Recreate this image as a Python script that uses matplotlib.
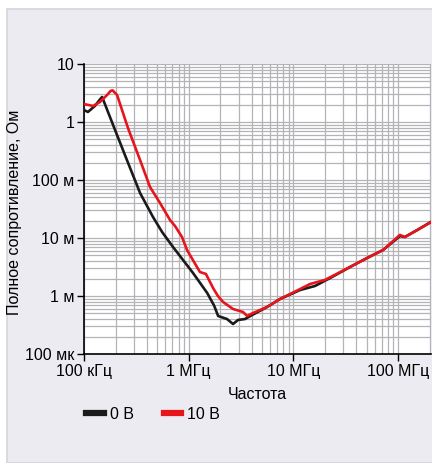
import matplotlib
matplotlib.use("Agg")
import matplotlib.pyplot as plt
from matplotlib.patches import Rectangle
from matplotlib.lines import Line2D

plt.rcParams['font.family'] = ['Liberation Sans', 'DejaVu Sans']

# === Data ===
freq_0v = [1.0e5, 1.09e5, 1.27e5, 1.42e5, 1.49e5, 1.98e5, 2.57e5, 3.43e5, 4.56e5, 5.6e5,
           7.08e5, 1.10e6, 1.50e6, 1.75e6, 1.91e6, 2.32e6, 2.65e6, 2.96e6, 3.45e6, 4.03e6,
           5.60e6, 7.45e6, 1.16e7, 1.61e7, 2.24e7, 3.47e7, 5.05e7, 7.18e7, 1.04e8, 1.16e8,
           1.52e8, 2.06e8]
z_0v = [1.61, 1.49, 1.89, 2.45, 2.70, 0.728, 0.221, 0.0597, 0.0230, 0.0125,
        0.0070, 0.00249, 0.00113, 0.00068, 0.000452, 0.000401, 0.000329, 0.000386, 0.000401, 0.00047,
        0.000646, 0.000887, 0.00127, 0.00149, 0.00204, 0.00316, 0.00452, 0.00621, 0.0108, 0.0104,
        0.0137, 0.0189]

freq_10v = [1.0e5, 1.22e5, 1.42e5, 1.66e5, 1.80e5, 1.88e5, 2.07e5, 2.63e5, 3.43e5, 4.27e5,
            5.32e5, 6.63e5, 7.40e5, 8.63e5, 9.64e5, 1.28e6, 1.46e6, 1.71e6, 1.9e6, 2.13e6,
            2.65e6, 3.30e6, 3.61e6, 4.11e6, 5.60e6, 7.45e6, 1.16e7, 1.44e7, 2.00e7,
            3.47e7, 5.05e7, 7.18e7, 1.04e8, 1.16e8, 1.52e8, 2.06e8]
z_10v = [2.04, 1.89, 2.21, 2.92, 3.45, 3.50, 2.92, 0.788, 0.221, 0.0757,
         0.0401, 0.0204, 0.0161, 0.0104, 0.0062, 0.00259, 0.00240, 0.00137, 0.00100, 0.000788,
         0.000597, 0.00053, 0.000452, 0.000509, 0.000646, 0.000887, 0.00132, 0.00161, 0.00189,
         0.00316, 0.00452, 0.00621, 0.0113, 0.0104, 0.0137, 0.0189]

x_ticks = [1e5, 1e6, 1e7, 1e8]
x_labels = ['100 кГц', '1 МГц', '10 МГц', '100 МГц']
y_ticks = [1e-4, 1e-3, 1e-2, 1e-1, 1, 10]
y_labels = ['100 мк', '1 м', '10 м', '100 м', '1', '10']

# === Figure ===
fig = plt.figure(figsize=(4.32, 4.63), dpi=100)
fig.patch.set_facecolor('white')
fig.patches.append(Rectangle((7 / 432, 0), 1, 1 - 9 / 463, transform=fig.transFigure,
                             facecolor='#ecebf1', edgecolor='#d6d6da', linewidth=1.2,
                             zorder=-10))

ax = fig.add_axes([84 / 432, 1 - 354 / 463, 347 / 432, 290 / 463])
ax.set_zorder(5)
ax.set_facecolor('white')
ax.set_xscale('log')
ax.set_yscale('log')
ax.set_xlim(1e5, 2.06e8)
ax.set_ylim(1e-4, 10)

ax.grid(True, which='both', color='#b4b4b8', linewidth=0.9)
ax.set_axisbelow(True)

ax.plot(freq_0v, z_0v, color='#1a1a1a', linewidth=1.9, zorder=3, solid_joinstyle='round')
ax.plot(freq_10v, z_10v, color='#e8141c', linewidth=1.9, zorder=4, solid_joinstyle='round')

ax.set_xticks(x_ticks)
ax.set_xticklabels(x_labels)
ax.set_yticks(y_ticks)
ax.set_yticklabels(y_labels)
ax.tick_params(which='major', length=5, width=1, labelsize=11.5, color='black', pad=2)
ax.tick_params(which='minor', length=0)

for s in ['top', 'right']:
    ax.spines[s].set_visible(False)
for s in ['left', 'bottom']:
    ax.spines[s].set_linewidth(1.2)

ax.set_xlabel('Частота', fontsize=11.5, labelpad=6)
ax.set_ylabel('Полное сопротивление, Ом', fontsize=11.5)
ax.yaxis.set_label_coords(-62 / 347, 0.49)

# legend below the plot
handles = [Line2D([], [], color='#1a1a1a', linewidth=4.5),
           Line2D([], [], color='#e8141c', linewidth=4.5)]
fig.legend(handles, ['0 В', '10 В'], loc='upper left', bbox_to_anchor=(86 / 432, 1 - 407 / 463),
           ncol=2, frameon=False, fontsize=11.5, handlelength=1.1, handletextpad=0.4,
           columnspacing=1.85, borderaxespad=0, borderpad=0)

fig.savefig('out.png', dpi=100)
